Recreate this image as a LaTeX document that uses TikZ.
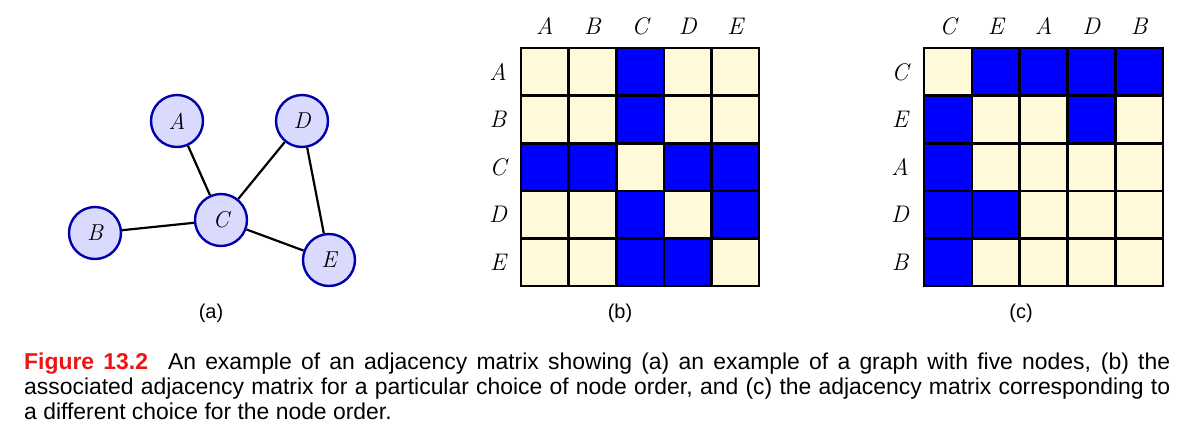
\documentclass[tikz,border=0pt]{standalone}
\usepackage{fontspec}
\newfontfamily\capfont{Liberation Sans}
\definecolor{nodefill}{RGB}{218,218,255}
\definecolor{nodeline}{RGB}{0,0,170}
\definecolor{cream}{RGB}{255,249,217}
\definecolor{cellblue}{RGB}{0,0,255}
\definecolor{figred}{RGB}{236,20,20}
\begin{document}
\begin{tikzpicture}[x=1pt,y=-1pt,
  gnode/.style={circle,draw=nodeline,fill=nodefill,line width=2.4pt,minimum size=52pt,inner sep=0pt,font=\fontsize{23}{24}\selectfont\itshape},
  gedge/.style={line width=2.2pt,black},
  off/.style={draw=black,fill=cream,line width=2.6pt,minimum size=47.6pt,inner sep=0pt},
  on/.style={draw=black,fill=cellblue,line width=2.6pt,minimum size=47.6pt,inner sep=0pt},
  mlabel/.style={font=\fontsize{24}{25}\selectfont\itshape,inner sep=0pt},
  sublabel/.style={font=\capfont\fontsize{20}{21}\selectfont,inner sep=0pt}
]
\useasboundingbox (0,0) rectangle (1203,440);
% graph (a)
\node[gnode] (A) at (177,121) {A};
\node[gnode] (D) at (302,121) {D};
\node[gnode] (C) at (221,220) {C};
\node[gnode] (B) at (95,233) {B};
\node[gnode] (E) at (329,260) {E};
\draw[gedge] (A) -- (C);
\draw[gedge] (B) -- (C);
\draw[gedge] (C) -- (D);
\draw[gedge] (C) -- (E);
\draw[gedge] (D) -- (E);
\node[sublabel] (la) at (211,313) {(a)};
% matrix (b)
\foreach \lab [count=\i] in {A,B,C,D,E}{
  \node[mlabel] (bc\i) at ({521+47.6*(\i-0.5)},26) {\lab};
  \node[mlabel] (br\i) at (498,{48+47.6*(\i-0.5)}) {\lab};
}
\foreach \row [count=\r] in {
  {off,off,on,off,off},
  {off,off,on,off,off},
  {on,on,off,on,on},
  {off,off,on,off,on},
  {off,off,on,on,off}}{
  \foreach \st [count=\c] in \row {
    \node[\st] (b\r\c) at ({521+47.6*(\c-0.5)},{48+47.6*(\r-0.5)}) {};
  }
}
\node[sublabel] (lb) at (620,313) {(b)};
% matrix (c)
\foreach \lab [count=\i] in {C,E,A,D,B}{
  \node[mlabel] (cc\i) at ({924+47.8*(\i-0.5)},26) {\lab};
  \node[mlabel] (cr\i) at (900,{48+47.6*(\i-0.5)}) {\lab};
}
\foreach \row [count=\r] in {
  {off,on,on,on,on},
  {on,off,off,on,off},
  {on,off,off,off,off},
  {on,on,off,off,off},
  {on,off,off,off,off}}{
  \foreach \st [count=\c] in \row {
    \node[\st,minimum width=47.8pt] (c\r\c) at ({924+47.8*(\c-0.5)},{48+47.6*(\r-0.5)}) {};
  }
}
\node[sublabel] (lc) at (1021,313) {(c)};
% caption
\node[anchor=north west,inner sep=0pt,text width=1146pt,align=justify,
      font=\capfont\fontsize{22.9}{25}\selectfont] (cap) at (24,353)
{{\bfseries\color{figred}Figure 13.2}\hskip 20pt An example of an adjacency matrix showing (a) an example of a graph with five nodes, (b) the\linebreak associated adjacency matrix for a particular choice of node order, and (c) the adjacency matrix corresponding to\linebreak a different choice for the node order.};
\end{tikzpicture}
\end{document}
